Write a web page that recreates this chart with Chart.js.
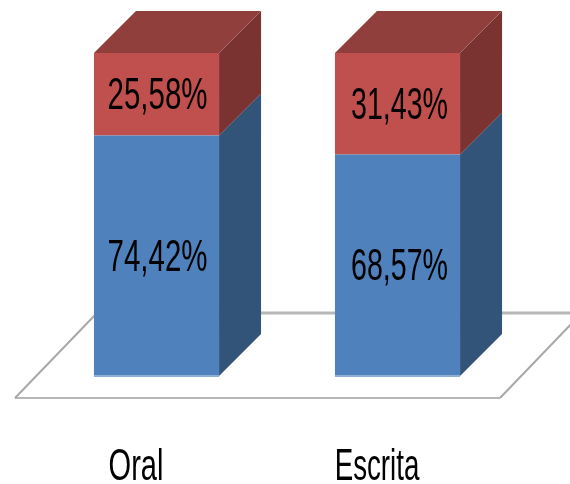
<!DOCTYPE html>
<html>
<head>
<meta charset="utf-8">
<style>
    html, body { margin: 0; padding: 0; background: #fff; overflow: hidden; }
    canvas { display: block; }
</style>
<script src="https://cdn.jsdelivr.net/npm/chart.js@4"></script>
</head>
<body>
<canvas id="chart-expresion" width="570" height="484"></canvas>
<script>
const categorias = ['Oral', 'Escrita'];
const valoresAzul = [74.42, 68.57];
const valoresRojo = [25.58, 31.43];

const FUENTE = '"Liberation Sans", Arial, sans-serif';
const PROF = 42; // profundidad del efecto 3D

function cara(ctx, color, puntos) {
    ctx.fillStyle = color;
    ctx.beginPath();
    puntos.forEach((p, i) => i ? ctx.lineTo(p[0], p[1]) : ctx.moveTo(p[0], p[1]));
    ctx.closePath();
    ctx.fill();
}

// texto angosto, como en el original
function textoAngosto(ctx, texto, x, y, size, escala) {
    ctx.save();
    ctx.translate(x, y);
    ctx.scale(escala, 1);
    ctx.font = size + 'px ' + FUENTE;
    ctx.fillStyle = '#000';
    ctx.textAlign = 'center';
    ctx.textBaseline = 'middle';
    ctx.fillText(texto, 0, 0);
    ctx.restore();
}

const cubo3d = {
    id: 'cubo3d',
    beforeDatasetsDraw(chart) {
        const ctx = chart.ctx;
        const yBase = chart.scales.y.getPixelForValue(0);

        /* Piso */
        const frente = yBase + 22;
        const fondo = yBase - 63;
        ctx.save();
        ctx.strokeStyle = '#b7b7b7';
        ctx.lineWidth = 2;
        ctx.beginPath();
        ctx.moveTo(15, frente);
        ctx.lineTo(500, frente);
        ctx.stroke();
        ctx.lineWidth = 3;
        ctx.beginPath();
        ctx.moveTo(200, fondo);
        ctx.lineTo(570, fondo);
        ctx.stroke();
        ctx.lineWidth = 2;
        ctx.strokeStyle = '#a8a8a8';
        ctx.beginPath();
        ctx.moveTo(15, frente);
        ctx.lineTo(96, frente - 84);
        ctx.moveTo(500, frente);
        ctx.lineTo(575, frente - 78);
        ctx.stroke();
        ctx.restore();

        /* Caras laterales y superior */
        const colores = [
            { lado: '#335479' },
            { lado: '#7a3331', arriba: '#913f3c' }
        ];
        chart.data.datasets.forEach((ds, d) => {
            chart.getDatasetMeta(d).data.forEach((bar) => {
                const izq = bar.x - bar.width / 2;
                const der = bar.x + bar.width / 2;
                cara(ctx, colores[d].lado, [
                    [der, bar.y], [der + PROF, bar.y - PROF],
                    [der + PROF, bar.base - PROF], [der, bar.base]
                ]);
                if (colores[d].arriba) {
                    cara(ctx, colores[d].arriba, [
                        [izq, bar.y], [izq + PROF, bar.y - PROF],
                        [der + PROF, bar.y - PROF], [der, bar.y]
                    ]);
                }
            });
        });
    },
    afterDatasetsDraw(chart) {
        const ctx = chart.ctx;
        chart.data.datasets.forEach((ds, d) => {
            chart.getDatasetMeta(d).data.forEach((bar, i) => {
                const etiqueta = ds.data[i].toFixed(2).replace('.', ',') + '%';
                textoAngosto(ctx, etiqueta, bar.x + 1 + i, (bar.y + bar.base) / 2 + 3, 44, i ? 0.65 : 0.67);
            });
        });
        /* borde inferior claro */
        chart.getDatasetMeta(0).data.forEach((bar) => {
            ctx.fillStyle = '#8fafd6';
            ctx.fillRect(bar.x - bar.width / 2, bar.base - 1, bar.width, 2);
        });
        /* Etiquetas del eje x */
        const x = chart.scales.x;
        categorias.forEach((cat, i) => {
            textoAngosto(ctx, cat, x.getPixelForTick(i) - 20.5, 468, 44, i ? 0.63 : 0.66);
        });
    }
};

const myChart = new Chart(document.getElementById('chart-expresion').getContext('2d'), {
    type: 'bar',
    data: {
        labels: categorias,
        datasets: [{
            data: valoresAzul,
            backgroundColor: '#4f81bd',
            barPercentage: 0.519,
            categoryPercentage: 1
        }, {
            data: valoresRojo,
            backgroundColor: '#c0504d',
            barPercentage: 0.519,
            categoryPercentage: 1
        }]
    },
    options: {
        responsive: false,
        animation: false,
        layout: {
            padding: { left: 36, right: 52, top: 53, bottom: 108 }
        },
        scales: {
            x: { stacked: true, display: false },
            y: { stacked: true, display: false, min: 0, max: 100 }
        },
        plugins: {
            legend: { display: false },
            tooltip: { enabled: false }
        }
    },
    plugins: [cubo3d]
});
</script>
</body>
</html>
